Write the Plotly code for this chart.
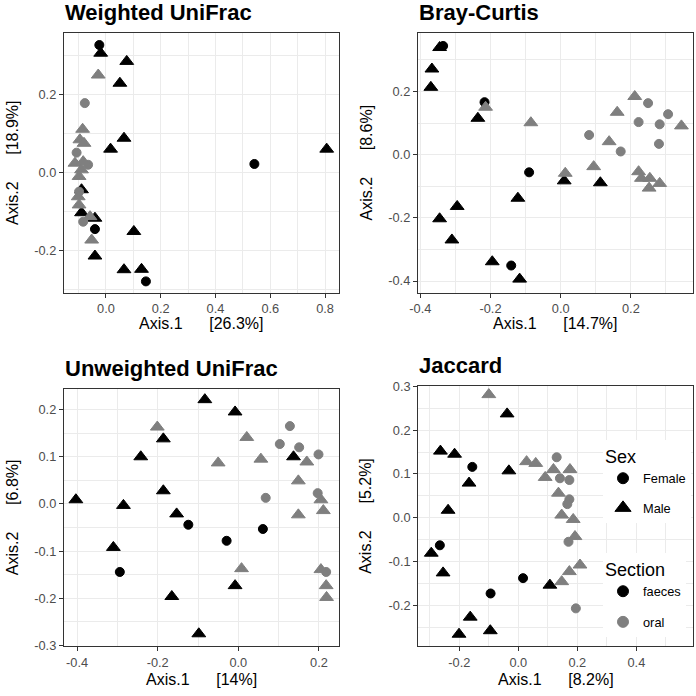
import plotly.graph_objects as go

# ---------------- data ----------------
# Weighted UniFrac
wu_ff_x = [-0.024, 0.542, -0.040, 0.146]
wu_ff_y = [0.326, 0.021, -0.146, -0.280]
wu_mf_x = [-0.019, 0.076, 0.051, 0.066, 0.017, 0.806, -0.089, -0.089, -0.040, 0.102, -0.040, 0.066, 0.130]
wu_mf_y = [0.305, 0.284, 0.228, 0.087, 0.059, 0.059, -0.045, -0.104, -0.118, -0.152, -0.215, -0.250, -0.249]
wu_fo_x = [-0.077, -0.107, -0.065, -0.098, -0.083]
wu_fo_y = [0.177, 0.050, 0.019, -0.050, -0.127]
wu_mo_x = [-0.028, -0.085, -0.095, -0.080, -0.113, -0.083, -0.089, -0.098, -0.101, -0.098, -0.058, -0.052]
wu_mo_y = [0.249, 0.110, 0.083, 0.074, 0.023, 0.027, 0.006, -0.011, -0.063, -0.084, -0.114, -0.174]

# Bray-Curtis
bc_ff_x = [-0.335, -0.217, -0.090, -0.141]
bc_ff_y = [0.344, 0.166, -0.056, -0.351]
bc_mf_x = [-0.345, -0.367, -0.370, -0.236, 0.010, 0.113, -0.122, -0.295, -0.345, -0.310, -0.195, -0.117]
bc_mf_y = [0.339, 0.271, 0.213, 0.115, -0.083, -0.089, -0.138, -0.164, -0.203, -0.270, -0.339, -0.394]
bc_fo_x = [0.249, 0.306, 0.222, 0.282, 0.081, 0.280, 0.171]
bc_fo_y = [0.163, 0.128, 0.103, 0.096, 0.062, 0.034, 0.010]
bc_mo_x = [-0.214, -0.085, 0.013, 0.211, 0.161, 0.344, 0.138, 0.094, 0.222, 0.230, 0.254, 0.282, 0.252]
bc_mo_y = [0.150, 0.101, -0.059, 0.184, 0.134, 0.091, 0.041, -0.038, -0.054, -0.075, -0.075, -0.091, -0.106]

# Unweighted UniFrac
uu_ff_x = [-0.124, 0.061, -0.029, -0.294]
uu_ff_y = [-0.044, -0.053, -0.078, -0.144]
uu_mf_x = [-0.083, -0.008, -0.186, -0.242, 0.137, -0.186, -0.403, -0.285, -0.153, -0.310, -0.008, -0.165, -0.098]
uu_mf_y = [0.221, 0.195, 0.138, 0.100, 0.100, 0.028, 0.009, -0.003, -0.021, -0.092, -0.173, -0.196, -0.275]
uu_fo_x = [0.128, 0.103, 0.151, 0.199, 0.068, 0.197, 0.218]
uu_fo_y = [0.165, 0.127, 0.120, 0.105, 0.013, 0.023, -0.144]
uu_mo_x = [-0.201, 0.021, -0.050, 0.056, 0.170, 0.149, 0.205, 0.211, 0.149, 0.008, 0.205, 0.218, 0.219]
uu_mo_y = [0.163, 0.141, 0.087, 0.095, 0.089, 0.049, 0.009, -0.014, -0.023, -0.137, -0.139, -0.173, -0.198]

# Jaccard
ja_ff_x = [-0.156, -0.266, 0.016, -0.094]
ja_ff_y = [0.116, -0.063, -0.138, -0.173]
ja_mf_x = [-0.038, -0.264, -0.216, -0.032, -0.167, -0.238, -0.295, -0.255, 0.107, -0.163, -0.201, -0.095]
ja_mf_y = [0.237, 0.152, 0.145, 0.107, 0.079, 0.017, -0.081, -0.126, -0.154, -0.227, -0.266, -0.258]
ja_fo_x = [0.130, 0.141, 0.173, 0.173, 0.166, 0.170, 0.195]
ja_fo_y = [0.138, 0.090, 0.086, 0.042, 0.031, -0.055, -0.207]
ja_mo_x = [-0.100, 0.028, 0.059, 0.119, 0.175, 0.091, 0.136, 0.147, 0.186, 0.192, 0.209, 0.173, 0.147]
ja_mo_y = [0.281, 0.128, 0.124, 0.110, 0.110, 0.092, 0.056, 0.006, -0.004, -0.043, -0.108, -0.123, -0.146]

titles = ["Weighted UniFrac", "Bray-Curtis", "Unweighted UniFrac", "Jaccard"]
x_titles = ["Axis.1      [26.3%]", "Axis.1      [14.7%]", "Axis.1      [14%]", "Axis.1      [8.2%]"]
y_titles = ["Axis.2      [18.9%]", "Axis.2      [8.6%]", "Axis.2      [6.8%]", "Axis.2      [5.2%]"]

x_ticks = [[0.0, 0.2, 0.4, 0.6, 0.8], [-0.4, -0.2, 0.0, 0.2], [-0.4, -0.2, 0.0, 0.2], [-0.2, 0.0, 0.2, 0.4]]
x_ticktext = [["0.0", "0.2", "0.4", "0.6", "0.8"], ["-0.4", "-0.2", "0.0", "0.2"],
              ["-0.4", "-0.2", "0.0", "0.2"], ["-0.2", "0.0", "0.2", "0.4"]]
y_ticks = [[-0.2, 0.0, 0.2], [-0.4, -0.2, 0.0, 0.2], [-0.3, -0.2, -0.1, 0.0, 0.1, 0.2],
           [-0.2, -0.1, 0.0, 0.1, 0.2, 0.3]]
y_ticktext = [["-0.2", "0.0", "0.2"], ["-0.4", "-0.2", "0.0", "0.2"],
              ["-0.3", "-0.2", "-0.1", "0.0", "0.1", "0.2"], ["-0.2", "-0.1", "0.0", "0.1", "0.2", "0.3"]]
x_ranges = [[-0.153, 0.852], [-0.4066, 0.377], [-0.4325, 0.2506], [-0.339, 0.592]]
y_ranges = [[-0.309, 0.356], [-0.437, 0.384], [-0.3015, 0.2436], [-0.2936, 0.300]]
x_minor = [0.1, 0.1, 0.1, 0.1]
y_minor = [0.1, 0.1, 0.05, 0.05]

sex_labels = ["Female", "Male"]
section_labels = ["faeces", "oral"]

# ---------------- styling ----------------
W = H = 696
BLACK = "#000000"
GREY = "#7F7F7F"
FONT = "Liberation Sans, Arial, sans-serif"
GRID = "#EBEBEB"
BORDER = "#333333"

# panel boxes in pixels (left, right, top, bottom)
boxes = [(64, 339.3, 33.3, 292.7), (418, 693, 33.3, 292.7),
         (64, 339.3, 389, 646.3), (418.3, 693, 386.3, 646.3)]
xtitle_y = [324, 324, 679, 679]          # pixel centre of x-axis titles
ytitle_x = [12, 365.5, 12.5, 365.5]      # pixel centre of y-axis titles

panels = [
    (wu_ff_x, wu_ff_y, wu_mf_x, wu_mf_y, wu_fo_x, wu_fo_y, wu_mo_x, wu_mo_y),
    (bc_ff_x, bc_ff_y, bc_mf_x, bc_mf_y, bc_fo_x, bc_fo_y, bc_mo_x, bc_mo_y),
    (uu_ff_x, uu_ff_y, uu_mf_x, uu_mf_y, uu_fo_x, uu_fo_y, uu_mo_x, uu_mo_y),
    (ja_ff_x, ja_ff_y, ja_mf_x, ja_mf_y, ja_fo_x, ja_fo_y, ja_mo_x, ja_mo_y),
]

CIRCLE = dict(symbol="circle", size=9)
TRI = dict(symbol="triangle-up", size=12)

fig = go.Figure()
layout = dict(width=W, height=H, margin=dict(l=0, r=0, t=0, b=0),
              paper_bgcolor="white", plot_bgcolor="white",
              font=dict(family=FONT, color="black"), annotations=[])

for i, p in enumerate(panels):
    xa = "x" if i == 0 else f"x{i+1}"
    ya = "y" if i == 0 else f"y{i+1}"
    groups = [(p[0], p[1], BLACK, CIRCLE), (p[2], p[3], BLACK, TRI),
              (p[4], p[5], GREY, CIRCLE), (p[6], p[7], GREY, TRI)]
    for gx, gy, col, mk in groups:
        fig.add_trace(go.Scatter(
            x=gx, y=gy, mode="markers", xaxis=xa, yaxis=ya, showlegend=False,
            marker=dict(color=col, symbol=mk["symbol"], size=mk["size"],
                        line=dict(color=col, width=1)),
            hoverinfo="skip"))
    l, r, t, b = boxes[i]
    xkey = "xaxis" if i == 0 else f"xaxis{i+1}"
    ykey = "yaxis" if i == 0 else f"yaxis{i+1}"
    common = dict(showline=True, mirror=True, linecolor=BORDER, linewidth=1.3,
                  ticks="outside", ticklen=4, tickwidth=1.1, tickcolor=BORDER,
                  showgrid=True, gridcolor=GRID, gridwidth=1.2, zeroline=False,
                  tickfont=dict(size=12.8, color="#4D4D4D", family=FONT),
                  tickmode="array", automargin=False, fixedrange=True)
    layout[xkey] = dict(common, domain=[l / W, r / W], anchor=ya,
                        range=x_ranges[i], tickvals=x_ticks[i], ticktext=x_ticktext[i],
                        minor=dict(showgrid=True, gridcolor=GRID, gridwidth=0.6,
                                   tickmode="linear", tick0=0, dtick=x_minor[i], ticks=""))
    layout[ykey] = dict(common, domain=[1 - b / H, 1 - t / H], anchor=xa,
                        range=y_ranges[i], tickvals=y_ticks[i], ticktext=y_ticktext[i],
                        minor=dict(showgrid=True, gridcolor=GRID, gridwidth=0.6,
                                   tickmode="linear", tick0=0, dtick=y_minor[i], ticks=""))
    # panel title
    layout["annotations"].append(dict(
        text=f"<b>{titles[i]}</b>", xref="paper", yref="paper",
        x=(l - 1) / W, y=1 - (t - 21) / H, xanchor="left", yanchor="middle",
        showarrow=False, font=dict(size=22, color="black", family=FONT)))
    # x-axis title
    layout["annotations"].append(dict(
        text=x_titles[i].replace(" ", "\u00a0"), xref="paper", yref="paper",
        x=(l + r) / 2 / W, y=1 - xtitle_y[i] / H, xanchor="center", yanchor="middle",
        showarrow=False, font=dict(size=16, color="black", family=FONT)))
    # y-axis title
    layout["annotations"].append(dict(
        text=y_titles[i].replace(" ", "\u00a0"), xref="paper", yref="paper",
        x=ytitle_x[i] / W, y=1 - (t + b) / 2 / H, xanchor="center", yanchor="middle",
        textangle=-90, showarrow=False, font=dict(size=16, color="black", family=FONT)))

# legend entries - legend-only traces
for lab, mk in zip(sex_labels, [CIRCLE, TRI]):
    fig.add_trace(go.Scatter(x=[None], y=[None], mode="markers", name=lab,
                             legend="legend", legendgroup=lab, showlegend=True,
                             marker=dict(color=BLACK, symbol=mk["symbol"], size=mk["size"] + 2,
                                         line=dict(color=BLACK, width=1))))
for lab, col in zip(section_labels, [BLACK, GREY]):
    fig.add_trace(go.Scatter(x=[None], y=[None], mode="markers", name=lab,
                             legend="legend2", legendgroup=lab, showlegend=True,
                             marker=dict(color=col, symbol="circle", size=11,
                                         line=dict(color=col, width=1))))

leg_common = dict(bgcolor="white", borderwidth=0, xanchor="left", yanchor="top",
                  font=dict(size=12.8, color="black", family=FONT),
                  tracegroupgap=10, itemclick=False, itemdoubleclick=False)
layout["legend"] = dict(leg_common, x=603 / W, y=1 - 440 / H,
                        title=dict(text="Sex", font=dict(size=18, family=FONT)))
layout["legend2"] = dict(leg_common, x=603 / W, y=1 - 553 / H,
                         title=dict(text="Section", font=dict(size=18, family=FONT)),
                         tracegroupgap=11)

fig.update_layout(**layout)
fig.write_html("out.html", config={"displayModeBar": False},
               post_script="document.body.style.margin='0';")
